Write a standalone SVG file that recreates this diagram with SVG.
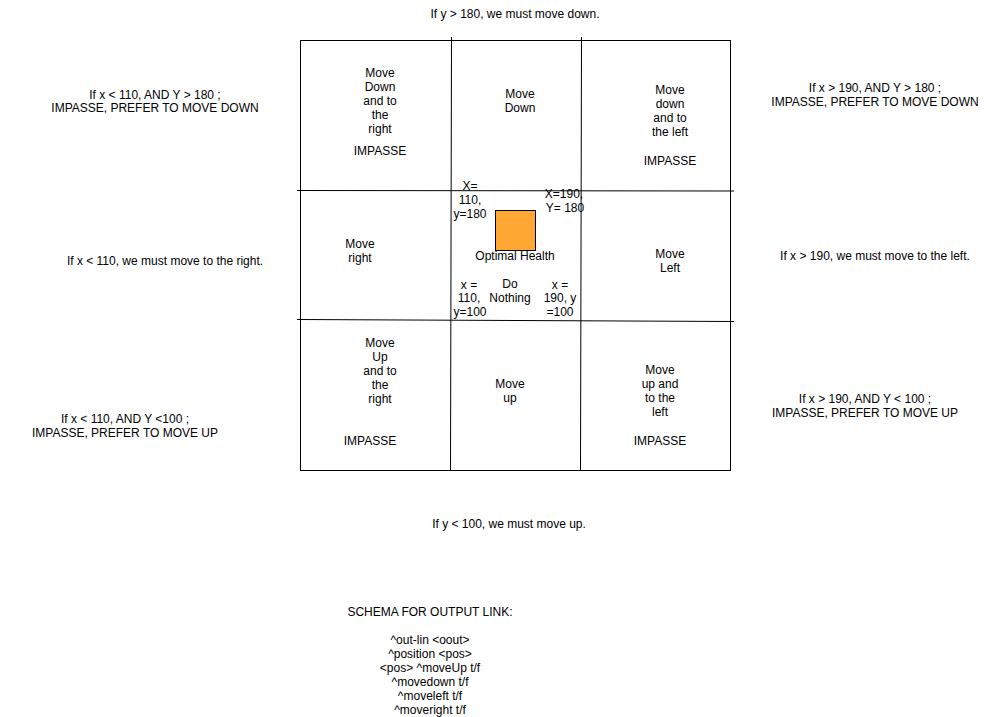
<svg xmlns="http://www.w3.org/2000/svg" width="1001" height="717" viewBox="0 0 1001 717">
<style>
text{font-family:"Liberation Sans",Arial,Helvetica,sans-serif;font-size:12px;fill:#000;text-anchor:middle}
.ln{stroke:#000;stroke-width:1;fill:none}
</style>
<rect width="1001" height="717" fill="#fff"/>
<g id="grid">
<rect class="ln" x="300.5" y="40.5" width="430" height="430"/>
<path class="ln" d="M451.5 37 L450.5 471"/>
<path class="ln" d="M581.5 37 L580.5 471"/>
<path class="ln" d="M297 190.5 L734 191"/>
<path class="ln" d="M297 319.5 L734 321.5"/>
</g>
<g id="optimal">
<rect x="495.5" y="210.5" width="40" height="40" fill="#FFA733" stroke="#000"/>
<text x="515" y="260">Optimal Health</text>
</g>
<g id="labels-outside">
<text x="515" y="18">If y &gt; 180, we must move down.</text>
<text x="155" y="99">If x &lt; 110, AND Y &gt; 180 ;</text>
<text x="155" y="112">IMPASSE, PREFER TO MOVE DOWN</text>
<text x="875" y="92">If x &gt; 190, AND Y &gt; 180 ;</text>
<text x="875" y="106">IMPASSE, PREFER TO MOVE DOWN</text>
<text x="165" y="265">If x &lt; 110, we must move to the right.</text>
<text x="875" y="260">If x &gt; 190, we must move to the left.</text>
<text x="125" y="423">If x &lt; 110, AND Y &lt;100 ;</text>
<text x="125" y="437">IMPASSE, PREFER TO MOVE UP</text>
<text x="865" y="403">If x &gt; 190, AND Y &lt; 100 ;</text>
<text x="865" y="417">IMPASSE, PREFER TO MOVE UP</text>
<text x="509" y="528">If y &lt; 100, we must move up.</text>
</g>
<g id="schema">
<text x="430" y="616">SCHEMA FOR OUTPUT LINK:</text>
<text x="430" y="644">^out-lin &lt;oout&gt;</text>
<text x="430" y="658">^position &lt;pos&gt;</text>
<text x="430" y="672">&lt;pos&gt; ^moveUp t/f</text>
<text x="430" y="686">^movedown t/f</text>
<text x="430" y="700">^moveleft t/f</text>
<text x="430" y="714">^moveright t/f</text>
</g>
<g id="cell-tl">
<text x="380" y="77">Move</text>
<text x="380" y="91">Down</text>
<text x="380" y="105">and to</text>
<text x="380" y="119">the</text>
<text x="380" y="133">right</text>
<text x="380" y="155">IMPASSE</text>
</g>
<g id="cell-tm">
<text x="520" y="98">Move</text>
<text x="520" y="112">Down</text>
</g>
<g id="cell-tr">
<text x="670" y="94">Move</text>
<text x="670" y="108">down</text>
<text x="670" y="122">and to</text>
<text x="670" y="136">the left</text>
<text x="670" y="165">IMPASSE</text>
</g>
<g id="cell-ml">
<text x="360" y="248">Move</text>
<text x="360" y="262">right</text>
</g>
<g id="cell-mm">
<text x="470" y="190">X=</text>
<text x="470" y="204">110,</text>
<text x="470" y="218">y=180</text>
<text x="564" y="198">X=190,</text>
<text x="565" y="212">Y= 180</text>
<text x="469" y="289">x =</text>
<text x="469" y="302">110,</text>
<text x="470" y="316">y=100</text>
<text x="510" y="288">Do</text>
<text x="510" y="302">Nothing</text>
<text x="560" y="289">x =</text>
<text x="560" y="302">190, y</text>
<text x="560" y="316">=100</text>
</g>
<g id="cell-mr">
<text x="670" y="258">Move</text>
<text x="670" y="272">Left</text>
</g>
<g id="cell-bl">
<text x="380" y="347">Move</text>
<text x="380" y="361">Up</text>
<text x="380" y="375">and to</text>
<text x="380" y="389">the</text>
<text x="380" y="403">right</text>
<text x="370" y="445">IMPASSE</text>
</g>
<g id="cell-bm">
<text x="510" y="388">Move</text>
<text x="510" y="402">up</text>
</g>
<g id="cell-br">
<text x="660" y="374">Move</text>
<text x="660" y="388">up and</text>
<text x="660" y="402">to the</text>
<text x="660" y="416">left</text>
<text x="660" y="445">IMPASSE</text>
</g>
</svg>
